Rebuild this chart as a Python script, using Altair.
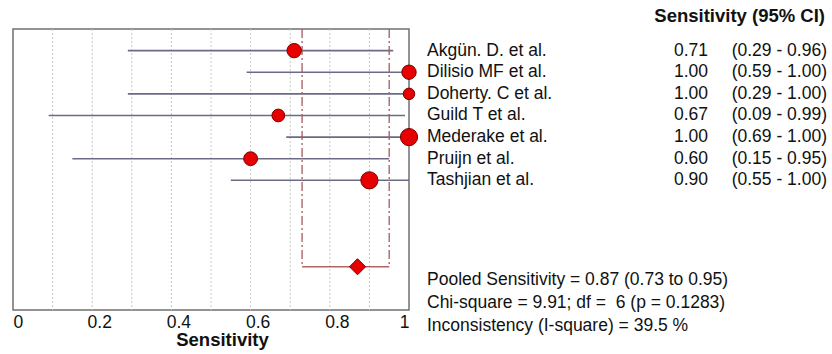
import altair as alt
import pandas as pd

# ---- data ----
studies = ["Akgün. D. et al.", "Dilisio MF et al.", "Doherty. C et al.", "Guild T et al.",
           "Mederake et al.", "Pruijn et al.", "Tashjian et al."]
sens = [0.71, 1.00, 1.00, 0.67, 1.00, 0.60, 0.90]
lower = [0.29, 0.59, 0.29, 0.09, 0.69, 0.15, 0.55]
upper = [0.96, 1.00, 1.00, 0.99, 1.00, 0.95, 1.00]
weight = [7.0, 7.0, 4.5, 5.5, 10.0, 6.5, 10.0]   # relative study weights (marker area)
pooled_est = [0.87]
pooled_lo = [0.73]
pooled_hi = [0.95]
stats_lines = ["Pooled Sensitivity = 0.87 (0.73 to 0.95)",
               "Chi-square = 9.91; df = \u00a06 (p = 0.1283)",
               "Inconsistency (I-square) = 39.5 %"]
x_ticks = [0, 0.2, 0.4, 0.6, 0.8, 1]
grid_x = [0.1, 0.2, 0.3, 0.4, 0.5, 0.6, 0.7, 0.8, 0.9]
header = "Sensitivity (95% CI)"

# ---- layout constants ----
W, H = 396, 281
Y_MIN, Y_MAX = -1, 12
POOLED_ROW = 10
FONT = "Liberation Sans"
FS = 17.5

df = pd.DataFrame({
    "study": studies, "sens": sens, "lo": lower, "hi": upper, "w": weight,
    "row": list(range(len(studies))),
})
df["val"] = [f"{v:.2f}" for v in sens]
df["ci"] = [f"({a:.2f} - {b:.2f})" for a, b in zip(lower, upper)]

pdf = pd.DataFrame({"est": pooled_est, "lo": pooled_lo, "hi": pooled_hi, "row": [POOLED_ROW]})
vdf = pd.DataFrame({"x": pooled_lo + pooled_hi, "top": [Y_MIN] * 2, "row": [POOLED_ROW] * 2})
gdf = pd.DataFrame({"x": grid_x})

xscale = alt.Scale(domain=[0, 1], nice=False, zero=False)
yscale = alt.Scale(domain=[Y_MIN, Y_MAX], reverse=True, nice=False, zero=False)

xaxis = alt.Axis(values=x_ticks, format="~g", grid=False, ticks=False, domain=False,
                 labelFontSize=17.5, labelFont=FONT, labelColor="#111", labelPadding=3,
                 labelOffset={"condition": {"test": "datum.value > 0 && datum.value < 1", "value": 7},
                              "value": 0},
                 title="Sensitivity", titleFont=FONT, titleFontSize=18.5, titleFontWeight="bold",
                 titleColor="#111", titlePadding=0, titleX=209)

grid = alt.Chart(gdf).mark_rule(color="#c8c8c8", strokeDash=[2, 2], strokeWidth=1).encode(
    x=alt.X("x:Q", scale=xscale, axis=xaxis), y=alt.value(0), y2=alt.value(H))

ci = alt.Chart(df).mark_rule(color="#6b6b86", strokeWidth=1.6).encode(
    x=alt.X("lo:Q", scale=xscale), x2="hi:Q",
    y=alt.Y("row:Q", scale=yscale, axis=None))

vlines = alt.Chart(vdf).mark_rule(color="#a85a5a", strokeDash=[9, 3, 2, 3], strokeWidth=1.3).encode(
    x=alt.X("x:Q", scale=xscale), y=alt.Y("top:Q", scale=yscale), y2="row:Q")

hline = alt.Chart(pdf).mark_rule(color="#b06464", strokeWidth=1.5).encode(
    x=alt.X("lo:Q", scale=xscale), x2="hi:Q", y=alt.Y("row:Q", scale=yscale))

dots = alt.Chart(df).mark_point(filled=True, shape="circle", fill="#e60000", stroke="#7a0000",
                                strokeWidth=1, opacity=1).encode(
    x=alt.X("sens:Q", scale=xscale), y=alt.Y("row:Q", scale=yscale),
    size=alt.Size("w:Q", scale=alt.Scale(domain=[0, 10], range=[0, 295]), legend=None))

diamond = alt.Chart(pdf).mark_point(filled=True, shape="diamond", size=260, fill="#e60000",
                                    stroke="#7a0000", strokeWidth=1, opacity=1).encode(
    x=alt.X("est:Q", scale=xscale), y=alt.Y("row:Q", scale=yscale))

names = alt.Chart(df).mark_text(align="left", baseline="middle", font=FONT, fontSize=FS,
                                color="#111").encode(
    x=alt.value(414), y=alt.Y("row:Q", scale=yscale), text="study:N")

vals = alt.Chart(df).mark_text(align="right", baseline="middle", font=FONT, fontSize=FS,
                               color="#111").encode(
    x=alt.value(695), y=alt.Y("row:Q", scale=yscale), text="val:N")

cis = alt.Chart(df).mark_text(align="right", baseline="middle", font=FONT, fontSize=FS,
                              color="#111").encode(
    x=alt.value(814), y=alt.Y("row:Q", scale=yscale), text="ci:N")

head = alt.Chart(pd.DataFrame({"t": [header]})).mark_text(
    align="right", baseline="middle", font=FONT, fontSize=18.5, fontWeight="bold", color="#111").encode(
    x=alt.value(812), y=alt.value(-13), text="t:N")

stats = alt.Chart(pd.DataFrame({"t": ["\n".join(stats_lines)]})).mark_text(
    align="left", baseline="middle", font=FONT, fontSize=FS, color="#111",
    lineBreak="\n", lineHeight=23).encode(
    x=alt.value(414), y=alt.value(251), text="t:N")

chart = alt.layer(grid, ci, vlines, hline, dots, diamond, names, vals, cis, head, stats).properties(
    width=W, height=H,
    autosize=alt.AutoSizeParams(type="none"),
    padding={"left": 13, "top": 29, "right": 832 - 13 - W, "bottom": 354 - 29 - H},
    background="white",
).configure_view(stroke="#707070", strokeWidth=1.5)

chart.save("out.html", embed_options={"renderer": "svg", "actions": False})
